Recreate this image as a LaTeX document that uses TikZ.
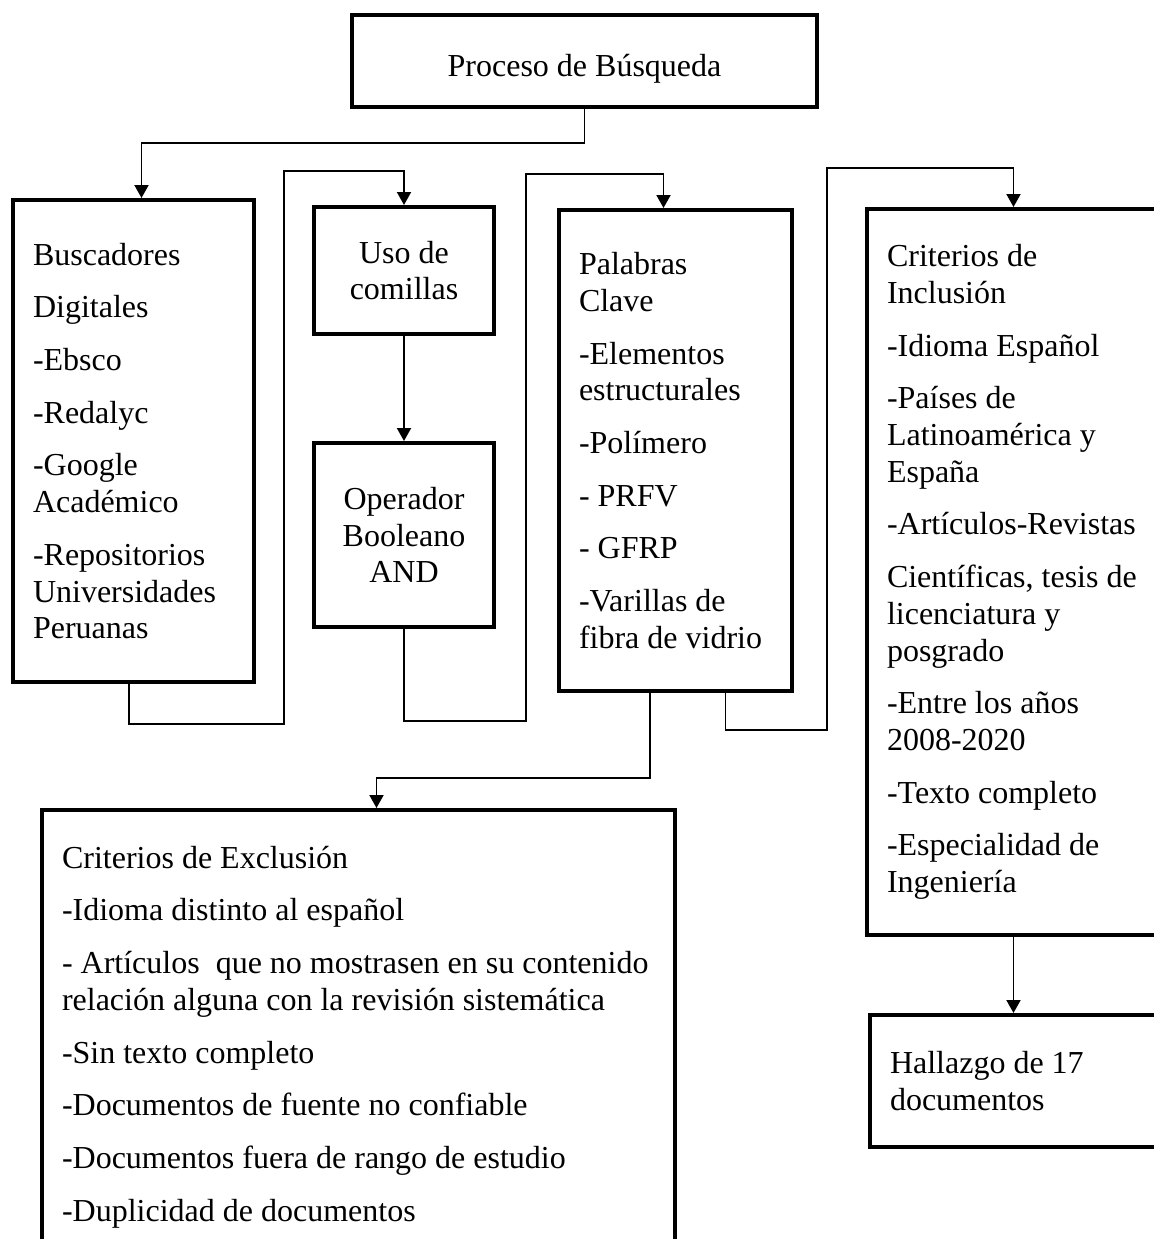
\documentclass[tikz,border=0pt]{standalone}
\usepackage{fontspec}
\setmainfont{Liberation Serif}
\usetikzlibrary{arrows.meta}

\begin{document}
\begin{tikzpicture}[x=0.5pt, y=-0.5pt, >={Triangle[length=6.5pt,width=7pt]},
  box/.style={draw, line width=2pt, inner xsep=11pt, inner ysep=4pt,
    anchor=north west, font=\fontsize{16pt}{18.35pt}\selectfont},
  lbox/.style={box, align=flush left, inner xsep=10pt},
  cbox/.style={box, align=flush center},
  link/.style={line width=0.95pt}]
  \useasboundingbox (0,0) rectangle (1154,1239);
  \clip (0,0) rectangle (1154,1239);
  % boxes
  \node[cbox, minimum width=232.5pt, minimum height=46pt, text height=15pt, text depth=0pt] (proc) at (350,13)
    {Proceso de Búsqueda};
  \node[lbox, text width=100.5pt, minimum height=241pt] (busc) at (11,198)
    {Buscadores\\[8pt] Digitales\\[8pt] -Ebsco\\[8pt] -Redalyc\\[8pt] -Google\\ Académico\\[8pt]
     -Repositorios\\ Universidades\\ Peruanas};
  \node[cbox, minimum width=90pt, minimum height=63.5pt] (comi) at (312,205) {Uso de\\ comillas};
  \node[cbox, minimum width=90pt, minimum height=92pt] (oper) at (312,441) {Operador\\ Booleano\\ AND};
  \node[lbox, text width=96.5pt, minimum height=240.5pt] (pala) at (557,208)
    {Palabras\\ Clave\\[8pt] -Elementos\\ estructurales\\[8pt] -Polímero\\[8pt] - PRFV\\[8pt] - GFRP\\[8pt]
     -Varillas de\\ fibra de vidrio};
  \node[lbox, text width=126.5pt, minimum height=363pt] (incl) at (865,207)
    {Criterios de\\ Inclusión\\[8pt] -Idioma Español\\[8pt] -Países de\\ Latinoamérica y\\ España\\[8pt]
     -Artículos-Revistas\\[8pt] Científicas, tesis de\\ licenciatura y\\ posgrado\\[8pt]
     -Entre los años\\ 2008-2020\\[8pt] -Texto completo\\[8pt] -Especialidad de\\ Ingeniería};
  \node[lbox, text width=126pt, minimum height=66pt] (hall) at (868,1013) {Hallazgo de 17\\ documentos};
  \node[lbox, text width=296.5pt, minimum height=227pt] (excl) at (40,808)
    {Criterios de Exclusión\\[8pt] -Idioma distinto al español\\[8pt]
     - Artículos\ \ que no mostrasen en su contenido\\ relación alguna con la revisión sistemática\\[8pt]
     -Sin texto completo\\[8pt] -Documentos de fuente no confiable\\[8pt]
     -Documentos fuera de rango de estudio\\[8pt] -Duplicidad de documentos};
  % connectors
  \draw[link, ->] (proc.south) -- ++(0,34) -| ([xshift=4pt]busc.north);
  \draw[link, ->] ([xshift=-2.25pt]busc.south) -- ++(0,40) -| (284,171) -| (comi.north);
  \draw[link, ->] (comi.south) -- (oper.north);
  \draw[link, ->] (oper.south) -- ++(0,92) -| (526,174) -| ([xshift=-6pt]pala.north);
  \draw[link, ->] ([xshift=25pt]pala.south) -- ++(0,37) -| (827,168) -| (incl.north);
  \draw[link, ->] ([xshift=-12.75pt]pala.south) -- ++(0,85) -| ([xshift=9pt]excl.north);
  \draw[link, ->] (incl.south) -- (incl.south |- hall.north);
\end{tikzpicture}
\end{document}
